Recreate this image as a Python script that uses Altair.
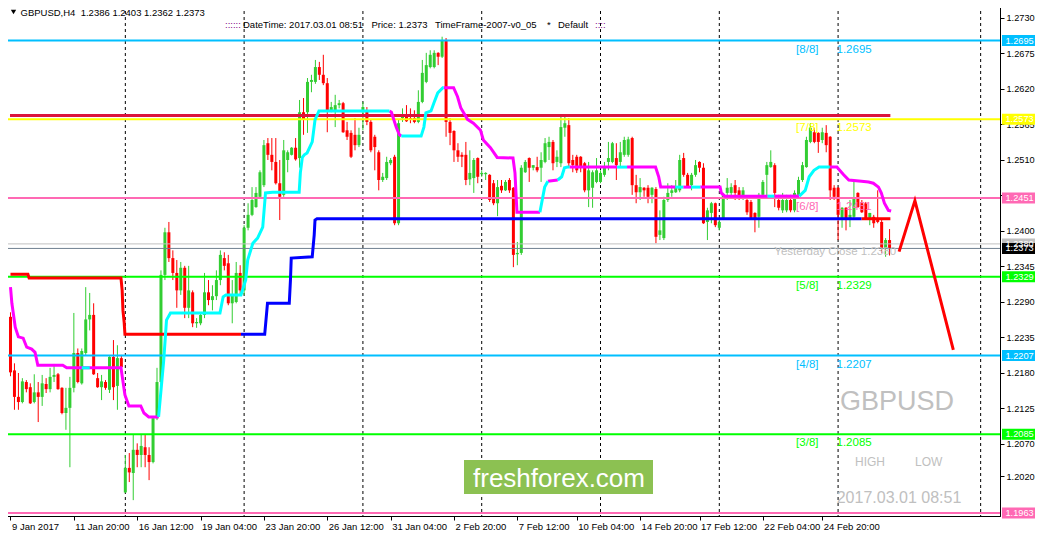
import json
import altair as alt
import pandas as pd

# ---------------- data (GBPUSD H4) ----------------
opens = [1.2267,1.2184,1.2143,1.2135,1.2166,1.2158,1.2135,1.2150,1.2143,1.2163,
1.2155,1.2174,1.2178,1.2157,1.2118,1.2126,1.2157,1.2211,1.2164,1.2211,
1.2263,1.2270,1.2172,1.2158,1.2166,1.2154,1.2205,1.2160,1.2203,1.1995,
1.2033,1.2025,1.2061,1.2053,1.2065,1.2053,1.2042,1.2110,1.2166,1.2332,
1.2398,1.2358,1.2335,1.2308,1.2343,1.2281,1.2305,1.2257,1.2257,1.2270,
1.2305,1.2293,1.2299,1.2324,1.2358,1.2350,1.2288,1.2290,1.2335,1.2308,
1.2405,1.2425,1.2437,1.2453,1.2471,1.2536,1.2518,1.2507,1.2474,1.2456,
1.2510,1.2518,1.2529,1.2513,1.2584,1.2584,1.2631,1.2631,1.2654,1.2642,
1.2629,1.2587,1.2587,1.2595,1.2598,1.2556,1.2552,1.2549,1.2533,1.2584,
1.2587,1.2569,1.2546,1.2522,1.2479,1.2482,1.2505,1.2515,1.2412,1.2575,
1.2577,1.2575,1.2575,1.2569,1.2600,1.2631,1.2654,1.2654,1.2676,1.2670,
1.2696,1.2569,1.2555,1.2525,1.2518,1.2518,1.2480,1.2482,1.2513,1.2488,
1.2488,1.2487,1.2474,1.2443,1.2470,1.2463,1.2479,1.2467,1.2364,1.2366,
1.2491,1.2513,1.2498,1.2499,1.2498,1.2507,1.2530,1.2538,1.2507,1.2505,
1.2560,1.2564,1.2510,1.2515,1.2515,1.2505,1.2463,1.2467,1.2476,1.2476,
1.2487,1.2507,1.2507,1.2513,1.2507,1.2518,1.2518,1.2544,1.2471,1.2460,
1.2467,1.2467,1.2456,1.2465,1.2394,1.2389,1.2448,1.2459,1.2460,1.2463,
1.2513,1.2487,1.2471,1.2487,1.2507,1.2498,1.2414,1.2428,1.2443,1.2405,
1.2420,1.2459,1.2459,1.2471,1.2463,1.2453,1.2448,1.2445,1.2428,1.2422,
1.2456,1.2487,1.2499,1.2502,1.2448,1.2432,1.2432,1.2448,1.2432,1.2456,
1.2479,1.2499,1.2538,1.2553,1.2552,1.2541,1.2552,1.2546,1.2467,1.2467,
1.2420,1.2436,1.2417,1.2422,1.2459,1.2443,1.2443,1.2417,1.2422,1.2420,
1.2414,1.2374,1.2386]

highs = [1.2274,1.2195,1.2180,1.2172,1.2169,1.2164,1.2178,1.2166,1.2177,1.2172,
1.2188,1.2194,1.2180,1.2158,1.2157,1.2174,1.2273,1.2218,1.2218,1.2313,
1.2304,1.2288,1.2180,1.2177,1.2169,1.2206,1.2231,1.2223,1.2208,1.2053,
1.2056,1.2084,1.2071,1.2084,1.2084,1.2065,1.2112,1.2188,1.2339,1.2405,
1.2414,1.2370,1.2355,1.2352,1.2346,1.2346,1.2308,1.2265,1.2273,1.2335,
1.2324,1.2316,1.2339,1.2370,1.2367,1.2363,1.2324,1.2352,1.2347,1.2409,
1.2443,1.2468,1.2468,1.2494,1.2541,1.2544,1.2544,1.2544,1.2510,1.2541,
1.2525,1.2530,1.2544,1.2603,1.2606,1.2637,1.2642,1.2665,1.2662,1.2673,
1.2637,1.2600,1.2611,1.2603,1.2600,1.2569,1.2556,1.2575,1.2560,1.2600,
1.2592,1.2572,1.2549,1.2525,1.2490,1.2515,1.2513,1.2518,1.2572,1.2590,
1.2595,1.2590,1.2587,1.2618,1.2665,1.2676,1.2680,1.2680,1.2677,1.2701,
1.2699,1.2575,1.2556,1.2536,1.2522,1.2538,1.2525,1.2513,1.2514,1.2494,
1.2491,1.2488,1.2479,1.2479,1.2479,1.2479,1.2482,1.2468,1.2383,1.2502,
1.2510,1.2514,1.2502,1.2515,1.2522,1.2544,1.2546,1.2541,1.2525,1.2577,
1.2577,1.2575,1.2518,1.2518,1.2516,1.2507,1.2507,1.2494,1.2513,1.2494,
1.2507,1.2538,1.2538,1.2536,1.2538,1.2546,1.2546,1.2546,1.2487,1.2482,
1.2468,1.2471,1.2468,1.2468,1.2432,1.2453,1.2474,1.2471,1.2479,1.2518,
1.2521,1.2490,1.2490,1.2510,1.2508,1.2505,1.2436,1.2445,1.2444,1.2417,
1.2459,1.2482,1.2474,1.2479,1.2468,1.2468,1.2453,1.2448,1.2429,1.2459,
1.2479,1.2507,1.2525,1.2505,1.2456,1.2459,1.2456,1.2456,1.2463,1.2484,
1.2507,1.2546,1.2567,1.2560,1.2553,1.2560,1.2564,1.2547,1.2471,1.2468,
1.2437,1.2437,1.2448,1.2476,1.2460,1.2448,1.2445,1.2428,1.2425,1.2463,
1.2420,1.2389,1.2403]

lows = [1.2175,1.2123,1.2123,1.2133,1.2150,1.2132,1.2133,1.2104,1.2129,1.2149,
1.2150,1.2166,1.2154,1.2116,1.2092,1.2034,1.2150,1.2164,1.2162,1.2208,
1.2246,1.2177,1.2157,1.2138,1.2154,1.2149,1.2138,1.2123,1.2184,1.1994,
1.2011,1.1983,1.2034,1.2034,1.2034,1.2014,1.2040,1.2107,1.2161,1.2324,
1.2352,1.2324,1.2281,1.2301,1.2265,1.2265,1.2251,1.2250,1.2254,1.2265,
1.2285,1.2277,1.2293,1.2316,1.2339,1.2285,1.2257,1.2288,1.2301,1.2301,
1.2401,1.2423,1.2436,1.2451,1.2468,1.2510,1.2494,1.2472,1.2417,1.2453,
1.2491,1.2517,1.2509,1.2498,1.2549,1.2552,1.2615,1.2628,1.2634,1.2626,
1.2553,1.2584,1.2561,1.2590,1.2552,1.2541,1.2513,1.2525,1.2530,1.2556,
1.2564,1.2522,1.2494,1.2463,1.2476,1.2479,1.2502,1.2409,1.2409,1.2569,
1.2569,1.2567,1.2567,1.2567,1.2598,1.2629,1.2652,1.2652,1.2657,1.2668,
1.2546,1.2533,1.2507,1.2507,1.2499,1.2471,1.2471,1.2459,1.2474,1.2484,
1.2479,1.2445,1.2440,1.2423,1.2459,1.2462,1.2459,1.2344,1.2347,1.2363,
1.2490,1.2476,1.2494,1.2491,1.2476,1.2505,1.2510,1.2494,1.2499,1.2499,
1.2546,1.2498,1.2491,1.2490,1.2491,1.2460,1.2437,1.2436,1.2474,1.2474,
1.2484,1.2494,1.2505,1.2479,1.2499,1.2515,1.2515,1.2456,1.2443,1.2448,
1.2453,1.2443,1.2443,1.2381,1.2386,1.2386,1.2445,1.2453,1.2459,1.2460,
1.2484,1.2467,1.2463,1.2484,1.2491,1.2411,1.2386,1.2412,1.2406,1.2401,
1.2417,1.2448,1.2453,1.2448,1.2448,1.2448,1.2425,1.2417,1.2398,1.2405,
1.2453,1.2453,1.2498,1.2437,1.2432,1.2428,1.2429,1.2429,1.2429,1.2453,
1.2476,1.2498,1.2536,1.2536,1.2521,1.2536,1.2522,1.2448,1.2448,1.2386,
1.2405,1.2401,1.2406,1.2417,1.2436,1.2428,1.2417,1.2409,1.2405,1.2412,
1.2366,1.2360,1.2362]

closes = [1.2181,1.2143,1.2135,1.2167,1.2155,1.2133,1.2150,1.2143,1.2164,1.2155,
1.2174,1.2177,1.2155,1.2118,1.2126,1.2157,1.2211,1.2166,1.2214,1.2263,
1.2270,1.2178,1.2158,1.2167,1.2157,1.2205,1.2158,1.2203,1.2189,1.2033,
1.2026,1.2061,1.2053,1.2067,1.2053,1.2042,1.2110,1.2166,1.2332,1.2398,
1.2358,1.2335,1.2308,1.2343,1.2281,1.2308,1.2257,1.2259,1.2270,1.2305,
1.2293,1.2299,1.2324,1.2363,1.2346,1.2288,1.2301,1.2335,1.2308,1.2405,
1.2425,1.2448,1.2459,1.2491,1.2533,1.2518,1.2507,1.2474,1.2453,1.2525,
1.2522,1.2529,1.2511,1.2584,1.2572,1.2631,1.2634,1.2654,1.2642,1.2629,
1.2587,1.2592,1.2595,1.2598,1.2553,1.2546,1.2515,1.2533,1.2549,1.2592,
1.2569,1.2525,1.2530,1.2479,1.2484,1.2507,1.2510,1.2412,1.2567,1.2580,
1.2570,1.2572,1.2569,1.2600,1.2645,1.2657,1.2673,1.2676,1.2670,1.2696,
1.2569,1.2552,1.2525,1.2515,1.2515,1.2479,1.2490,1.2510,1.2484,1.2490,
1.2490,1.2448,1.2443,1.2468,1.2463,1.2476,1.2463,1.2363,1.2366,1.2498,
1.2507,1.2498,1.2502,1.2494,1.2510,1.2536,1.2538,1.2505,1.2515,1.2561,
1.2567,1.2505,1.2502,1.2494,1.2498,1.2463,1.2494,1.2491,1.2494,1.2490,
1.2499,1.2513,1.2536,1.2502,1.2522,1.2541,1.2542,1.2471,1.2460,1.2468,
1.2463,1.2453,1.2467,1.2391,1.2401,1.2448,1.2459,1.2463,1.2468,1.2510,
1.2487,1.2468,1.2487,1.2502,1.2498,1.2412,1.2432,1.2443,1.2409,1.2414,
1.2456,1.2467,1.2468,1.2459,1.2453,1.2463,1.2429,1.2420,1.2417,1.2456,
1.2476,1.2502,1.2507,1.2459,1.2436,1.2448,1.2448,1.2432,1.2459,1.2479,
1.2502,1.2541,1.2560,1.2538,1.2538,1.2553,1.2533,1.2463,1.2453,1.2425,
1.2436,1.2417,1.2425,1.2451,1.2437,1.2429,1.2420,1.2428,1.2412,1.2414,
1.2374,1.2386,1.2373]

# time axis (bar index of each label) and price axis ticks
x_tick_bars = [0, 16, 32, 48, 64, 80, 96, 112, 128, 143, 159, 174, 190, 205]
x_tick_labels = ["9 Jan 2017", "11 Jan 20:00", "16 Jan 12:00", "19 Jan 04:00",
                 "23 Jan 20:00", "26 Jan 12:00", "31 Jan 04:00", "2 Feb 20:00",
                 "7 Feb 12:00", "10 Feb 04:00", "14 Feb 20:00", "17 Feb 12:00",
                 "22 Feb 04:00", "24 Feb 20:00"]
y_ticks = [1.2730, 1.2675, 1.2620, 1.2565, 1.2510, 1.2455, 1.2400, 1.2345,
           1.2290, 1.2235, 1.2180, 1.2125, 1.2070, 1.2020]
grid_bars = [29, 59, 89, 119, 149, 179, 209, 245]

# Murrey math levels
level_names = ["[8/8]", "[7/8]", "[6/8]", "[5/8]", "[4/8]", "[3/8]", "[2/8]"]
level_prices = [1.2695, 1.2573, 1.2451, 1.2329, 1.2207, 1.2085, 1.1963]
yesterday_close = 1.2380
last_price = 1.2373
upper_band_price = 1.2579
upper_band_end_bar = 222.2

# price tags on the right scale
tag_prices = [1.2695, 1.2573, 1.2451, 1.2380, 1.2373, 1.2329, 1.2207, 1.2085, 1.1963]

# trailing line (up = below price, down = above price)
trend_segments = [
    ("down", [0, 0.35, 1.2, 2, 3.2, 4.1, 5.35, 6.2, 6.9, 13.2, 14.2, 27.9, 28.9, 29.9, 32.9, 33.7, 34.9, 37.4],
             [1.2313, 1.2288, 1.2251, 1.2236, 1.2234, 1.2220, 1.2217, 1.2212, 1.2192, 1.2192, 1.2188, 1.2188,
              1.2146, 1.2129, 1.2129, 1.2118, 1.2112, 1.2112]),
    ("up", [18, 20], [1.2188, 1.2188]),
    ("up", [37.4, 38.7, 39.4, 40.4, 52.9, 53.7, 54.4, 58.2, 59.4, 59.9, 61.2, 62.4, 63.7, 64.4, 66.2, 72.9,
            73.2, 73.7, 74.2, 74.9, 76.2, 76.9, 77.9, 95.7],
           [1.2112, 1.2200, 1.2262, 1.2273, 1.2273, 1.2298, 1.2301, 1.2301, 1.2324, 1.2355, 1.2381, 1.2389,
            1.2406, 1.2459, 1.2460, 1.2460, 1.2490, 1.2514, 1.2518, 1.2521, 1.2538, 1.2572, 1.2586, 1.2586]),
    ("down", [95.7, 96.2, 97.4, 98.2, 98.7], [1.2586, 1.2584, 1.2561, 1.2549, 1.2547]),
    ("up", [98.7, 103.7, 104.4, 104.9, 106.2, 106.9, 107.9, 109.2, 109.4],
           [1.2547, 1.2547, 1.2561, 1.2583, 1.2586, 1.2598, 1.2614, 1.2622, 1.2622]),
    ("down", [109.4, 111.9, 112.9, 113.7, 115.4, 116.9, 118.7, 119.4, 121.2, 122.9, 126.9, 127.4, 127.9, 133.7],
             [1.2622, 1.2622, 1.2608, 1.2591, 1.2573, 1.2567, 1.2556, 1.2541, 1.2529, 1.2514, 1.2513, 1.2490,
              1.2429, 1.2429]),
    ("up", [133.7, 134.9, 135.7], [1.2429, 1.2468, 1.2477]),
    ("down", [135.7, 138.2], [1.2477, 1.2479]),
    ("up", [138.2, 139.2, 139.9, 140.7, 141.2], [1.2479, 1.2484, 1.2498, 1.2499, 1.2499]),
    ("down", [141.2, 153.2], [1.2499, 1.2499]),
    ("up", [153.2, 155.7], [1.2499, 1.2499]),
    ("down", [155.7, 162.9, 163.7, 164.2, 167.9], [1.2499, 1.2499, 1.2484, 1.2468, 1.2468]),
    ("up", [167.9, 169.9], [1.2468, 1.2468]),
    ("down", [169.9, 171.9], [1.2468, 1.2468]),
    ("up", [171.9, 174.2], [1.2468, 1.2468]),
    ("down", [174.2, 179.2, 179.5, 180.4, 191.2], [1.2468, 1.2468, 1.2459, 1.2454, 1.2454]),
    ("up", [191.2, 192.9], [1.2454, 1.2454]),
    ("down", [192.9, 199.2], [1.2454, 1.2454]),
    ("up", [199.2, 200.7, 201.7, 202.9, 204.2, 206.9], [1.2454, 1.2463, 1.2484, 1.2494, 1.2499, 1.2499]),
    ("down", [206.9, 208.7, 209.4, 210.4, 211.7, 214.9, 216.7, 217.9, 219.2, 219.9, 220.7, 221.7, 222.4],
             [1.2499, 1.2499, 1.2494, 1.2487, 1.2479, 1.2477, 1.2476, 1.2474, 1.2468, 1.2459, 1.2443, 1.2432,
              1.2431]),
]

# support / resistance step line
step_segments = [
    ("res", [0, 4.4, 4.7, 27.9, 28.2, 28.4, 28.7, 28.9, 58.2],
            [1.2333, 1.2333, 1.2327, 1.2327, 1.2308, 1.2277, 1.2259, 1.2240, 1.2240]),
    ("sup", [58.2, 64.2, 64.9, 70.4, 70.7, 70.9, 76.2, 76.7, 76.9, 77.4, 214.9],
            [1.2240, 1.2240, 1.2288, 1.2288, 1.2324, 1.2358, 1.2360, 1.2394, 1.2417, 1.2419, 1.2419]),
    ("res", [214.9, 222.2], [1.2419, 1.2419]),
]

# projected zigzag
proj_bars = [224.4, 228.4, 238.1]
proj_prices = [1.2368, 1.2447, 1.2216]

header_symbol = "GBPUSD,H4\u00a0\u00a01.2386 1.2403 1.2362 1.2373"
header_parts = ["DateTime: 2017.03.01 08:51", "Price: 1.2373", "TimeFrame-2007-v0_05", "*", "Default"]
header_colons = ["::::::", "::::"]
watermark_symbol = "GBPUSD"
watermark_time = "2017.03.01 08:51"
high_low_words = ["HIGH", "LOW"]
yesterday_text = "Yesterday Close 1.2380"
brand_text = "freshforex.com"

# ---------------- styles / layout ----------------
FONT = "Liberation Sans"
AX_FS = 9.2
W, H = 995, 511
level_colors = ["#00BFFF", "#FFFF00", "#FF69B4", "#00FF00", "#00BFFF", "#00FF00", "#FF69B4"]
tag_colors = ["#00BFFF", "#FFFF00", "#FF69B4", "#C0C0C0", "#000000", "#00FF00", "#00BFFF", "#00FF00", "#FF69B4"]
UP, DOWN = "#32CD32", "#FF0000"

xs = alt.Scale(domain=[-0.125, 248.625], nice=False, zero=False)
ys = alt.Scale(domain=[1.195844, 1.275014], nice=False, zero=False)

label_expr = "[" + ",".join(json.dumps(s) for s in x_tick_labels) + "][indexof([" + \
    ",".join(str(v) for v in x_tick_bars) + "], datum.value)]"

xaxis = alt.Axis(values=x_tick_bars, labelExpr=label_expr, title=None, grid=False,
                 domainColor="black", tickColor="black", tickSize=4, labelAlign="left",
                 labelBaseline="top", labelPadding=1, labelOffset=1, labelFont=FONT,
                 labelFontSize=9.5, labelColor="black", labelOverlap=False,
                 labelFlush=False, labelBound=False)
yaxis = alt.Axis(values=y_ticks, format=".4f", orient="right", title=None, grid=False,
                 domainColor="black", tickColor="black", tickSize=4, labelPadding=2,
                 labelAlign="left", labelFont=FONT, labelFontSize=AX_FS, labelColor="black",
                 labelOverlap=False, labelFlush=False, labelBound=False)


def X(field):
    return alt.X(field, type="quantitative", scale=xs, axis=xaxis)


def Y(field):
    return alt.Y(field, type="quantitative", scale=ys, axis=yaxis)


candles = pd.DataFrame({"k": list(range(len(opens))), "o": opens, "h": highs, "l": lows, "c": closes})
updown = alt.condition("datum.c >= datum.o", alt.value(UP), alt.value(DOWN))

grid = alt.Chart(pd.DataFrame({"k": grid_bars})).mark_rule(
    color="black", strokeWidth=1, strokeDash=[3, 3]).encode(x=X("k"))

wicks = alt.Chart(candles).mark_rule(strokeWidth=1, clip=True).encode(
    x=X("k"), y=Y("l"), y2="h:Q", color=updown)
bodies = alt.Chart(candles).mark_bar(size=3, clip=True).encode(
    x=X("k"), y=Y("o"), y2="c:Q", color=updown)

levels = pd.DataFrame({"name": level_names, "p": level_prices, "col": level_colors})
level_lines = alt.Chart(levels).mark_rule(strokeWidth=2).encode(
    y=Y("p"), color=alt.Color("col:N", scale=None))

ref_lines = alt.Chart(pd.DataFrame({"p": [yesterday_close, last_price], "col": ["#C0C0C0", "#708090"]})) \
    .mark_rule(strokeWidth=1).encode(y=Y("p"), color=alt.Color("col:N", scale=None))

band = alt.Chart(pd.DataFrame({"k0": [-0.125], "k1": [upper_band_end_bar], "p": [upper_band_price]})) \
    .mark_rule(strokeWidth=3, color="#DC143C", clip=True).encode(x=X("k0"), x2="k1:Q", y=Y("p"))


def seg_frame(segs):
    rows = []
    for sid, (kind, ks, ps) in enumerate(segs):
        for i, (kk, pp) in enumerate(zip(ks, ps)):
            rows.append({"seg": sid, "kind": kind, "k": kk, "p": pp, "i": i})
    return pd.DataFrame(rows)


step_df = seg_frame(step_segments)
trend_df = seg_frame(trend_segments)


def seg_layer(df, kind, color):
    return alt.Chart(df).transform_filter(alt.datum.kind == kind).mark_line(
        color=color, strokeWidth=3, clip=True, strokeJoin="miter").encode(
        x=X("k"), y=Y("p"), detail="seg:N", order="i:Q")


step_res = seg_layer(step_df, "res", "#FF0000")
step_sup = seg_layer(step_df, "sup", "#0000FF")
trend_dn = seg_layer(trend_df, "down", "#FF00FF")
trend_up = seg_layer(trend_df, "up", "#00FFFF")

proj = alt.Chart(pd.DataFrame({"k": proj_bars, "p": proj_prices})).mark_line(
    color="#FF0000", strokeWidth=3, clip=True).encode(x=X("k"), y=Y("p"))

lvl_lab = levels.iloc[:6]
lvl_name_txt = alt.Chart(lvl_lab).mark_text(align="left", baseline="alphabetic", dy=12,
                                            font=FONT, fontSize=11.5).encode(
    x=alt.datum(198.4, type="quantitative", scale=xs), y=Y("p"), text="name:N",
    color=alt.Color("col:N", scale=None))
lvl_val_txt = alt.Chart(lvl_lab).mark_text(align="left", baseline="alphabetic", dy=12,
                                           font=FONT, fontSize=11.5).encode(
    x=alt.datum(208.6, type="quantitative", scale=xs), y=Y("p"),
    text=alt.Text("p:Q", format=".4f"), color=alt.Color("col:N", scale=None))
yc_txt = alt.Chart(pd.DataFrame({"t": [yesterday_text], "p": [yesterday_close]})).mark_text(
    align="left", baseline="alphabetic", dy=11.5, font=FONT, fontSize=11.5, color="#C0C0C0").encode(
    x=alt.datum(192.9, type="quantitative", scale=xs), y=Y("p"), text="t:N")


def px_text(txt, x, y, size, color, align="left", baseline="alphabetic", font=FONT):
    return alt.Chart(pd.DataFrame({"t": [txt]})).mark_text(
        align=align, baseline=baseline, fontSize=size, color=color, font=font).encode(
        x=alt.value(x), y=alt.value(y), text="t:N")


texts = [
    px_text(watermark_symbol, 892, 405, 27, "#C0C0C0", align="center"),
    px_text(high_low_words[0], 850, 460.5, 12, "#C0C0C0"),
    px_text(high_low_words[1], 910, 460.5, 12, "#C0C0C0"),
    px_text(watermark_time, 894, 498, 16, "#C0C0C0", align="center"),
    px_text(header_symbol, 15.5, 11, 9.5, "black"),
    px_text(header_colons[0], 220, 23.3, 9.5, "#800080"),
    px_text(header_parts[0], 238, 23.3, 9.5, "black"),
    px_text(header_parts[1], 366.5, 23.3, 9.5, "black"),
    px_text(header_parts[2], 430, 23.3, 9.5, "black"),
    px_text(header_parts[3], 542, 23.3, 9.5, "black"),
    px_text(header_parts[4], 553, 23.3, 9.5, "black"),
    px_text(header_colons[1], 590, 23.3, 9.5, "#800080"),
]

marker = alt.Chart(pd.DataFrame({"a": [0]})).mark_point(
    shape="triangle-down", filled=True, color="black", size=28, opacity=1).encode(
    x=alt.value(8.5), y=alt.value(7))
corner = alt.Chart(pd.DataFrame({"a": [0]})).mark_point(
    shape="triangle-down", filled=True, color="#8C8C8C", size=60, opacity=1, clip=True).encode(
    x=alt.value(896), y=alt.value(-1))

brand_box = alt.Chart(pd.DataFrame({"a": [0]})).mark_rect(color="#8CC152").encode(
    x=alt.value(459), x2=alt.value(648), y=alt.value(455), y2=alt.value(489))
brand_txt = px_text(brand_text, 554, 481.5, 26, "white", align="center")

tags = pd.DataFrame({"p": tag_prices, "col": tag_colors})
tag_box = alt.Chart(tags).mark_rect(yOffset=-5.5, y2Offset=5.5).encode(
    x=alt.value(W + 2), x2=alt.value(W + 39), y=Y("p"), y2="p:Q",
    color=alt.Color("col:N", scale=None))
tag_txt = alt.Chart(tags).mark_text(align="left", baseline="middle", font=FONT, fontSize=AX_FS,
                                    color="white").encode(
    x=alt.value(W + 5.5), y=Y("p"), text=alt.Text("p:Q", format=".4f"))

chart = alt.layer(
    grid, wicks, bodies, level_lines, ref_lines, band, step_res, step_sup, trend_dn, trend_up,
    proj, lvl_name_txt, lvl_val_txt, yc_txt, brand_box, brand_txt, *texts, marker, corner,
    tag_box, tag_txt
).properties(
    width=W, height=H, background="white",
    autosize=alt.AutoSizeParams(type="none"),
    padding={"left": -3, "top": -3, "right": 35, "bottom": 15}
).configure_view(stroke="black", strokeWidth=1)

chart.save("out.html", embed_options={"renderer": "svg", "actions": False})
